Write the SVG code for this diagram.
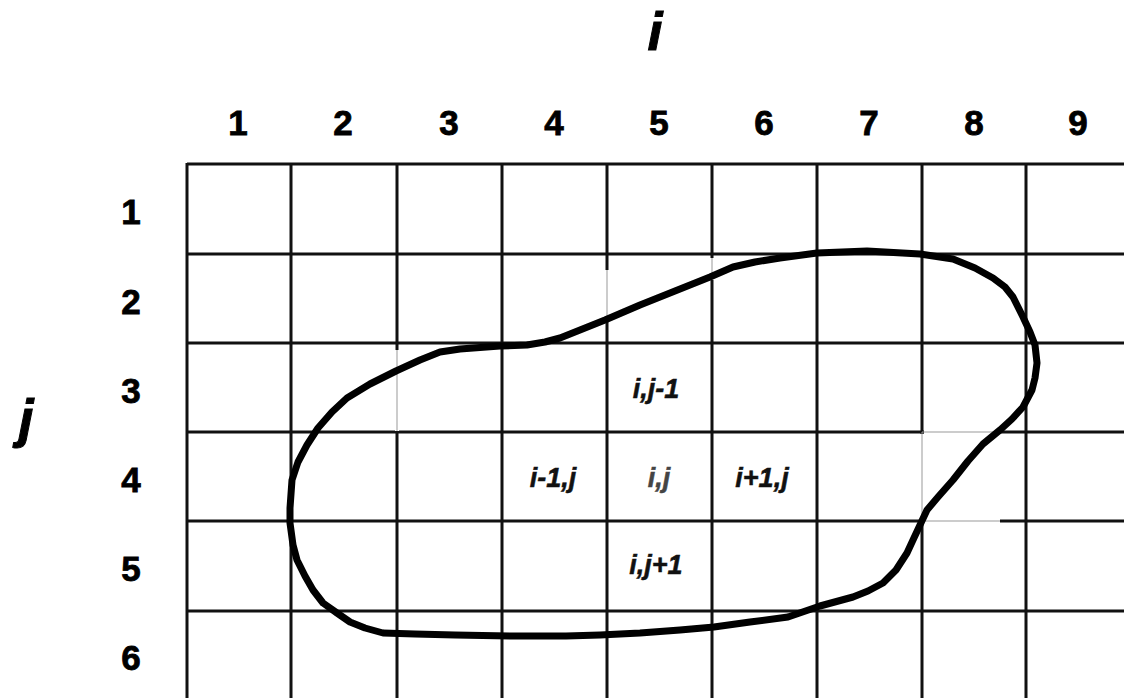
<svg xmlns="http://www.w3.org/2000/svg" width="1124" height="698" viewBox="0 0 1124 698">
<style>
.g{stroke:#111;stroke-width:3;fill:none}
.t{stroke:#999;stroke-width:1;fill:none}
.num{font-family:"Liberation Sans",Arial,sans-serif;font-weight:bold;font-size:35px;fill:#000;stroke:#000;stroke-width:0.8;text-anchor:middle}
.ax{font-family:"Liberation Sans",Arial,sans-serif;font-weight:bold;font-style:italic;font-size:54px;fill:#000;stroke:#000;stroke-width:1;text-anchor:middle}
.lbl{font-family:"Liberation Sans",Arial,sans-serif;font-weight:bold;font-style:italic;font-size:27px;fill:#111;stroke:#111;stroke-width:0.5;text-anchor:middle}
</style>
<rect width="1124" height="698" fill="#fff"/>
<g id="grid">
<g class="g">
<line x1="187" y1="164" x2="1124" y2="164"/>
<line x1="187" y1="254" x2="1124" y2="254"/>
<line x1="187" y1="343" x2="1124" y2="343"/>
<line x1="187" y1="432" x2="1124" y2="432"/>
<line x1="187" y1="521" x2="1124" y2="521"/>
<line x1="187" y1="611" x2="1124" y2="611"/>
<line x1="187" y1="163" x2="187" y2="698"/>
<line x1="291" y1="163" x2="291" y2="698"/>
<line x1="397" y1="163" x2="397" y2="698"/>
<line x1="502" y1="163" x2="502" y2="698"/>
<line x1="607" y1="163" x2="607" y2="698"/>
<line x1="712" y1="163" x2="712" y2="698"/>
<line x1="817" y1="163" x2="817" y2="698"/>
<line x1="922" y1="163" x2="922" y2="698"/>
<line x1="1026" y1="163" x2="1026" y2="698"/>
</g>
<g fill="#fff">
<rect x="395" y="350" width="4" height="81"/>
<rect x="605" y="270" width="4" height="52"/>
<rect x="710" y="258" width="4" height="22"/>
<rect x="920" y="434" width="4" height="86"/>
<rect x="924" y="430" width="76" height="4"/>
<rect x="924" y="519" width="76" height="4"/>
</g>
<g class="t">
<line x1="397" y1="350" x2="397" y2="431"/>
<line x1="607" y1="270" x2="607" y2="322"/>
<line x1="712" y1="258" x2="712" y2="280"/>
<line x1="922" y1="432" x2="922" y2="521"/>
<line x1="922" y1="432" x2="1000" y2="432"/>
<line x1="922" y1="521" x2="1000" y2="521"/>
</g>
</g>
<g id="connectors">
<path id="boundary" fill="none" stroke="#000" stroke-width="7" stroke-linejoin="round" stroke-linecap="round" d="M290,508 L292,480 L298,462 L307,445 L318,428 L332,412 L347,398 L370,384 L396,371 L420,360 L440,352 L460,349 L500,346 L527,345 L545,342 L560,338 L580,330 L605,320 L640,305 L675,291 L710,277 L733,267 L755,262 L780,258 L817,253 L867,251 L920,254 L953,259 L975,268 L993,278 L1005,287 L1013,297 L1023,317 L1030,332 L1035,345 L1037,363 L1035,378 L1032,390 L1023,407 L1012,419 L1000,430 L983,444 L968,461 L953,480 L938,497 L927,510 L920,525 L913,540 L907,553 L896,570 L883,583 L868,591 L853,597 L820,606 L788,617 L750,622 L714,627 L680,630 L640,633 L600,635 L566,636 L510,636 L455,635 L415,634 L383,633 L365,628 L350,622 L337,613 L323,603 L313,590 L305,576 L297,560 L293,545 L290,523 Z"/>
</g>
<g id="axis-i"><text class="ax" x="655" y="50">i</text></g>
<g id="axis-j"><text class="ax" x="26" y="437">j</text></g>
<g id="col-labels">
<text class="num" x="238" y="135">1</text>
<text class="num" x="343" y="135">2</text>
<text class="num" x="449" y="135">3</text>
<text class="num" x="554" y="135">4</text>
<text class="num" x="659" y="135">5</text>
<text class="num" x="764" y="135">6</text>
<text class="num" x="869" y="135">7</text>
<text class="num" x="974" y="135">8</text>
<text class="num" x="1078" y="135">9</text>
</g>
<g id="row-labels">
<text class="num" x="131" y="224">1</text>
<text class="num" x="131" y="314">2</text>
<text class="num" x="131" y="403">3</text>
<text class="num" x="131" y="492">4</text>
<text class="num" x="131" y="581">5</text>
<text class="num" x="131" y="670">6</text>
</g>
<g id="cell-i-jm1"><text class="lbl" x="656" y="398">i,j-1</text></g>
<g id="cell-im1-j"><text class="lbl" x="553" y="487">i-1,j</text></g>
<g id="cell-i-j"><text class="lbl" x="659" y="487" style="fill:#444;stroke:#444">i,j</text></g>
<g id="cell-ip1-j"><text class="lbl" x="762" y="487">i+1,j</text></g>
<g id="cell-i-jp1"><text class="lbl" x="656" y="574">i,j+1</text></g>
</svg>
